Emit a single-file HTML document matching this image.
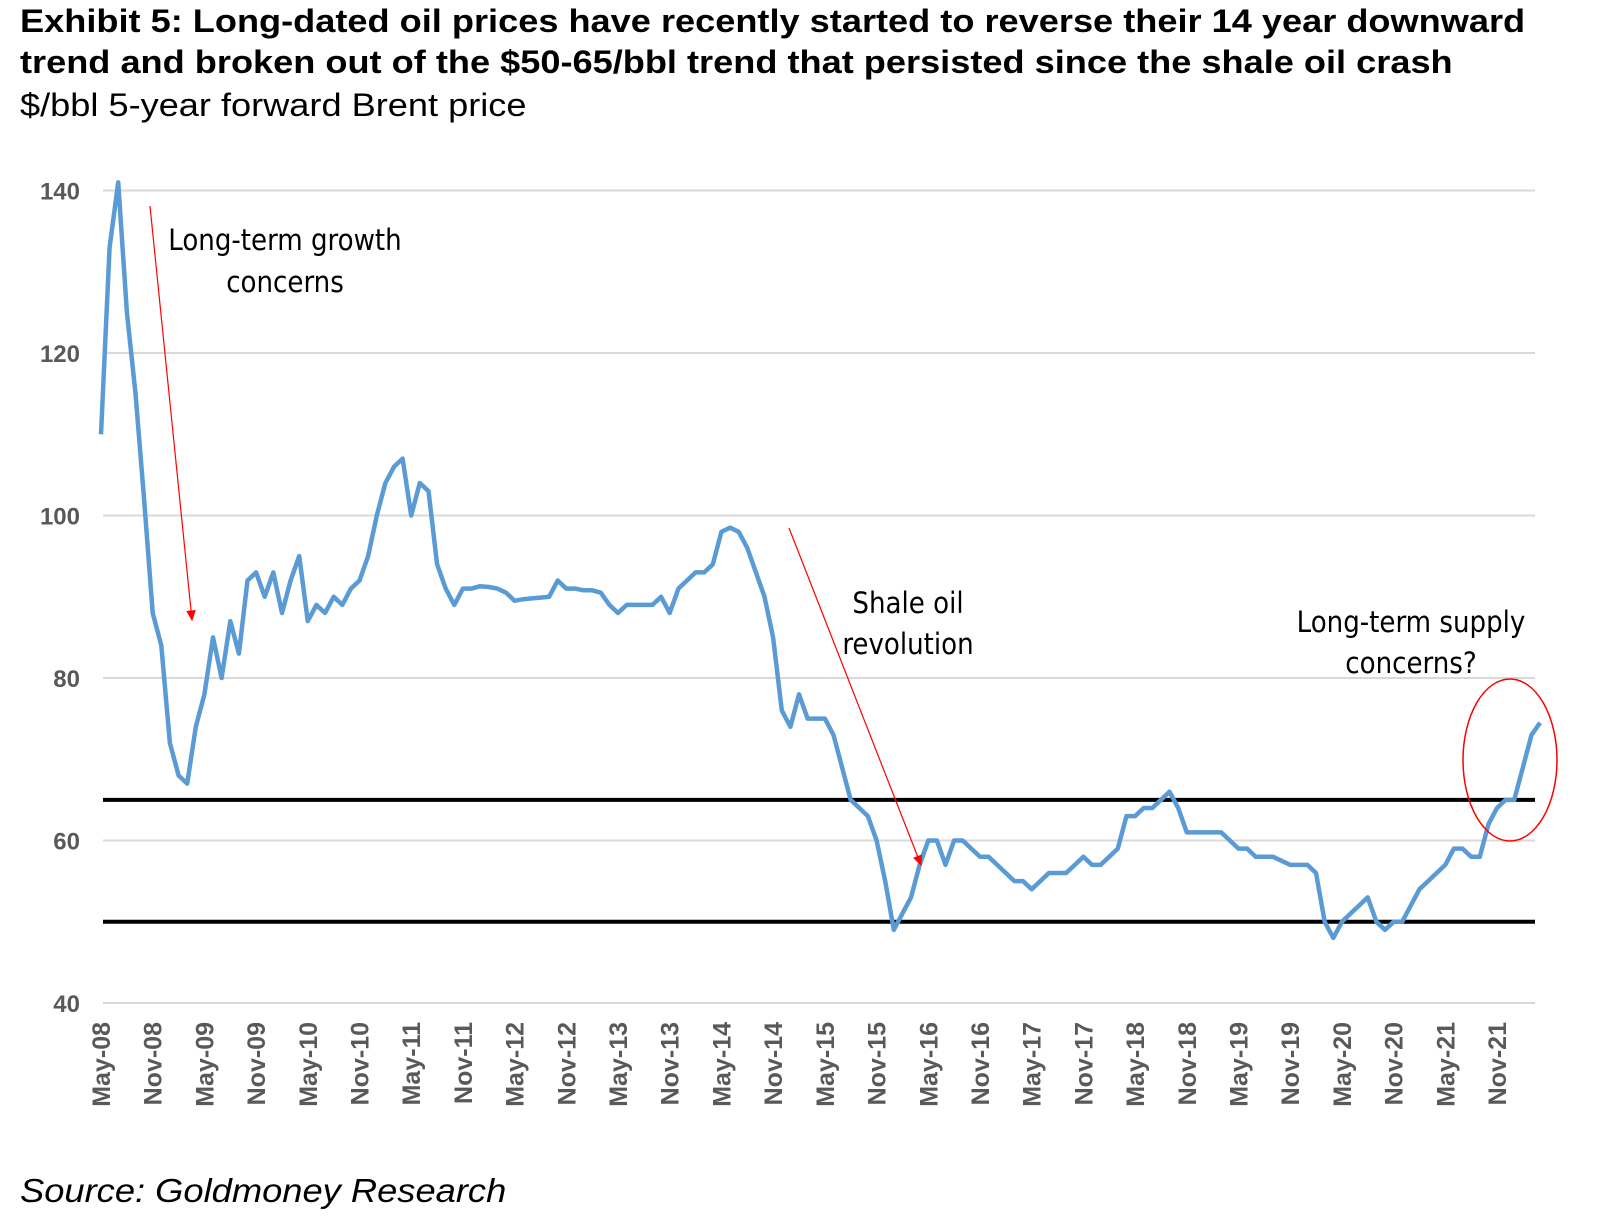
<!DOCTYPE html>
<html><head><meta charset="utf-8">
<style>
body{margin:0;background:#fff;width:1600px;height:1221px;overflow:hidden;font-family:"Liberation Sans",sans-serif;}
.t{position:absolute;left:20px;font-weight:bold;font-size:32px;color:#000;white-space:nowrap;transform-origin:0 0;transform:scaleX(1.13);}
</style></head><body>
<div class="t" style="top:3px">Exhibit 5: Long-dated oil prices have recently started to reverse their 14 year downward</div>
<div class="t" style="top:44px">trend and broken out of the $50-65/bbl trend that persisted since the shale oil crash</div>
<div class="t" style="top:87px;font-weight:normal">$/bbl 5-year forward Brent price</div>
<div style="position:absolute;left:20px;top:1172px;font-style:italic;font-size:33px;transform-origin:0 0;transform:scaleX(1.1)">Source: Goldmoney Research</div>
<svg id="chart" width="1600" height="1221" style="position:absolute;left:0;top:0"></svg>
<script>
const yTicks=[40,60,80,100,120,140];
const xLabels=["May-08","Nov-08","May-09","Nov-09","May-10","Nov-10","May-11","Nov-11","May-12","Nov-12","May-13","Nov-13","May-14","Nov-14","May-15","Nov-15","May-16","Nov-16","May-17","Nov-17","May-18","Nov-18","May-19","Nov-19","May-20","Nov-20","May-21","Nov-21"];
const bandLevels=[65,50];
// monthly values from May-08
const prices=[110,133,141,125,115,102,88,84,72,68,67,74,78,85,80,87,83,92,93,90,93,88,92,95,87,89,88,90,89,91,92,95,100,104,106,107,100,104,103,94,91,89,91,91,91.3,91.2,91,90.5,89.5,89.7,89.8,89.9,90,92,91,91,90.8,90.8,90.5,89,88,89,89,89,89,90,88,91,92,93,93,94,98,98.5,98,96,93,90,85,76,74,78,75,75,75,73,69,65,64,63,60,55,49,51,53,57,60,60,57,60,60,59,58,58,57,56,55,55,54,55,56,56,56,57,58,57,57,58,59,63,63,64,64,65,66,64,61,61,61,61,61,60,59,59,58,58,58,57.5,57,57,57,56,50,48,50,51,52,53,50,49,50,50,52,54,55,56,57,59,59,58,58,62,64,65,65,69,73,74.5];
const NS="http://www.w3.org/2000/svg";
const svg=document.getElementById('chart');
const X0=101,DX=(1497-101)/162,L=103,R=1535;
const xs=m=>X0+m*DX;
const ys=v=>1003-(v-40)*(162.5/20);
function mk(t,a){const e=document.createElementNS(NS,t);for(const k in a)e.setAttribute(k,a[k]);svg.appendChild(e);return e;}
yTicks.forEach(v=>{
 const g=mk('line',{x1:L,x2:R,y1:ys(v),y2:ys(v),stroke:'#d9d9d9','stroke-width':2});
 
 
 const t=mk('text',{x:80,y:ys(v)+9,'text-anchor':'end','font-size':24,'font-weight':'bold',fill:'#595959','font-family':'Liberation Sans'});
 t.textContent=v;
 
 
});
xLabels.forEach((s,i)=>{
 const x=xs(i*6);
 const t=mk('text',{x:0,y:0,transform:`translate(${x+9},1022) rotate(-90)`,'text-anchor':'end','font-size':25,'font-weight':'bold',fill:'#595959','font-family':'Liberation Sans'});
 t.textContent=s;
 
 
});
bandLevels.forEach(v=>{
 const l=mk('line',{x1:L,x2:R,y1:ys(v),y2:ys(v),stroke:'#000','stroke-width':4});
 
 
});
const p=mk('path',{d:prices.map((v,i)=>(i?'L':'M')+xs(i).toFixed(1)+','+ys(v).toFixed(1)).join(''),fill:'none',stroke:'#5b9bd5','stroke-width':4.5,'stroke-linejoin':'round'});


mk('defs',{}).innerHTML='<marker id="ah" markerWidth="10" markerHeight="10" refX="8" refY="5" orient="auto"><path d="M0,1L9,5L0,9z" fill="#ff0000"/></marker>';
function arrow(x1,y1,x2,y2,n){const a=mk('line',{x1,y1,x2,y2,stroke:'#ff0000','stroke-width':1.2,'marker-end':'url(#ah)'});}
arrow(150,206,192,620,'growth-arrow');
arrow(789,528,921,865,'shale-arrow');
function label(x,y,s,n){const t=mk('text',{x,y,'text-anchor':'middle','font-size':29,fill:'#000','font-family':'DejaVu Sans Condensed, Liberation Sans, sans-serif'});t.textContent=s;}
label(285,250,'Long-term growth','growth-annotation-line1');
label(285,292,'concerns','growth-annotation-line2');
label(908,613,'Shale oil','shale-annotation-line1');
label(908,654,'revolution','shale-annotation-line2');
label(1411,632,'Long-term supply','supply-annotation-line1');
label(1411,673,'concerns?','supply-annotation-line2');
const el=mk('ellipse',{cx:1510,cy:760,rx:47,ry:81,fill:'none',stroke:'#ff0000','stroke-width':1.5});


</script>
</body></html>
